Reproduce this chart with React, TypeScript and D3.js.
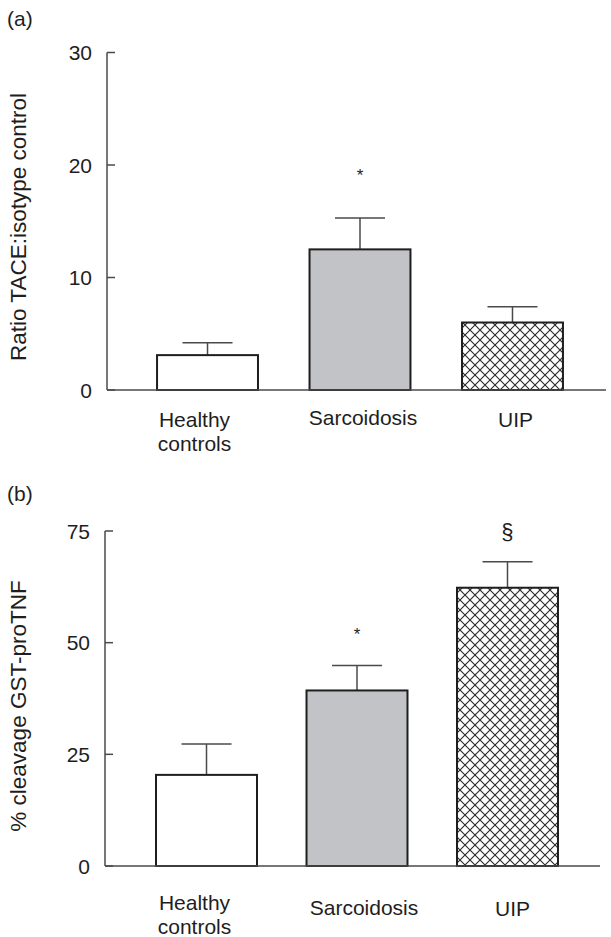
import React, { useEffect, useRef } from 'react';
import * as d3 from 'd3';

// Group labels (shared by both panels)
const categories = ['Healthy controls', 'Sarcoidosis', 'UIP'];

// Panel (a): ratio TACE:isotype control
const ratioMeans = [3.1, 12.5, 6.0];
const ratioErrors = [1.1, 2.8, 1.4];
const ratioTicks = [0, 10, 20, 30];
const ratioMarks = [{cat: 'Sarcoidosis', value: 19.3, text: '*'}];

// Panel (b): % cleavage GST-proTNF
const cleavageMeans = [20.4, 39.3, 62.3];
const cleavageErrors = [6.9, 5.6, 5.8];
const cleavageTicks = [0, 25, 50, 75];
const cleavageMarks = [
  {cat: 'Sarcoidosis', value: 52.5, text: '*'},
  {cat: 'UIP', value: 74.8, text: '§'}
];

const FONT = '"Liberation Sans", Arial, Helvetica, sans-serif';
const INK = '#1e1e1e';
const AXIS = '#4a4a4a';
const GREY_FILL = '#c2c3c7';

export default function App() {
  const ref = useRef<SVGSVGElement | null>(null);

  useEffect(() => {
    const node = ref.current;
    if (!node) return;
    const svg = d3.select(node);
    svg.selectAll('*').remove();

    // crosshatch for the UIP bars
    const defs = svg.append('defs');
    const pat = defs.append('pattern').attr('id', 'xhatch').attr('patternUnits', 'userSpaceOnUse')
      .attr('width', 10).attr('height', 10);
    pat.append('rect').attr('width', 10).attr('height', 10).attr('fill', '#fff');
    pat.append('path').attr('d', 'M-5,-5L15,15M15,-5L-5,15').attr('stroke', '#2a2a2a').attr('stroke-width', 1.1).attr('fill', 'none');

    const fills = ['#fff', GREY_FILL, 'url(#xhatch)'];

    const panels = [
      {
        tag: '(a)', tagY: 26, means: ratioMeans, errs: ratioErrors, ticks: ratioTicks, marks: ratioMarks,
        yMax: 30, top: 52.5, bottom: 390, xRange: [105.5, 614.5], pad: 0.338, axisX: 107, lineEnd: 606,
        label: 'Ratio TACE:isotype control', labelY: 227,
        catDy: [37, 35, 37], catDx: [-13, 3, 3]
      },
      {
        tag: '(b)', tagY: 501, means: cleavageMeans, errs: cleavageErrors, ticks: cleavageTicks, marks: cleavageMarks,
        yMax: 75, top: 531, bottom: 866, xRange: [106.5, 607.5], pad: 0.329, axisX: 105, lineEnd: 600,
        label: '% cleavage GST-proTNF', labelY: 706,
        catDy: [44, 49, 50], catDx: [-12, 7, 5]
      }
    ];

    panels.forEach(p => {
      const g = svg.append('g');
      const x = d3.scaleBand<string>().domain(categories).range(p.xRange as [number, number]).padding(p.pad);
      const y = d3.scaleLinear().domain([0, p.yMax]).range([p.bottom, p.top]);

      g.append('text').attr('x', 7).attr('y', p.tagY).attr('font-size', 21).attr('fill', INK).text(p.tag);

      // y axis: line, inward ticks, labels on the left
      g.append('line').attr('x1', p.axisX).attr('x2', p.axisX).attr('y1', y(0)).attr('y2', y(p.yMax))
        .attr('stroke', AXIS).attr('stroke-width', 1.5);
      p.ticks.forEach(t => {
        g.append('line').attr('x1', p.axisX).attr('x2', p.axisX + 8).attr('y1', y(t)).attr('y2', y(t))
          .attr('stroke', AXIS).attr('stroke-width', 1.5);
        g.append('text').attr('x', p.axisX - 15).attr('y', y(t)).attr('text-anchor', 'end')
          .attr('dominant-baseline', 'central').attr('font-size', 21).attr('fill', INK).text(String(t));
      });
      g.append('text').attr('transform', `translate(18,${p.labelY}) rotate(-90)`).attr('text-anchor', 'middle')
        .attr('dominant-baseline', 'central').attr('font-size', 22.5).attr('fill', INK).text(p.label);

      // bars with upper error bars
      categories.forEach((c, i) => {
        const bx = x(c) as number;
        const bw = x.bandwidth();
        const cx = bx + bw / 2;
        const errTop = y(p.means[i] + p.errs[i]);
        g.append('line').attr('x1', cx).attr('x2', cx).attr('y1', y(p.means[i])).attr('y2', errTop)
          .attr('stroke', AXIS).attr('stroke-width', 1.5);
        g.append('line').attr('x1', cx - 25).attr('x2', cx + 25).attr('y1', errTop).attr('y2', errTop)
          .attr('stroke', AXIS).attr('stroke-width', 1.5);
        g.append('rect').attr('x', bx).attr('y', y(p.means[i])).attr('width', bw).attr('height', y(0) - y(p.means[i]))
          .attr('fill', fills[i]).attr('stroke', INK).attr('stroke-width', 2);

        // category label (may wrap to two lines)
        const words = c === 'Healthy controls' ? ['Healthy', 'controls'] : [c];
        const t = g.append('text').attr('x', cx + p.catDx[i]).attr('y', y(0) + p.catDy[i]).attr('text-anchor', 'middle')
          .attr('font-size', 21).attr('fill', INK);
        words.forEach((w, k) => t.append('tspan').attr('x', cx + p.catDx[i]).attr('dy', k ? 24 : 0).text(w));
      });

      // baseline
      g.append('line').attr('x1', p.axisX).attr('x2', p.lineEnd).attr('y1', y(0)).attr('y2', y(0))
        .attr('stroke', AXIS).attr('stroke-width', 1.5);

      // significance marks
      p.marks.forEach(m => {
        const cx = (x(m.cat) as number) + x.bandwidth() / 2;
        g.append('text').attr('x', cx).attr('y', y(m.value)).attr('text-anchor', 'middle')
          .attr('dominant-baseline', 'central').attr('font-size', m.text === '*' ? 17 : 22).attr('fill', INK)
          .attr('dy', m.text === '*' ? 3 : 0).text(m.text);
      });
    });
  }, []);

  return (
    <svg ref={ref} width={611} height={937} viewBox="0 0 611 937"
      style={{position: 'absolute', left: 0, top: 0, background: '#fff', fontFamily: FONT}} />
  );
}
